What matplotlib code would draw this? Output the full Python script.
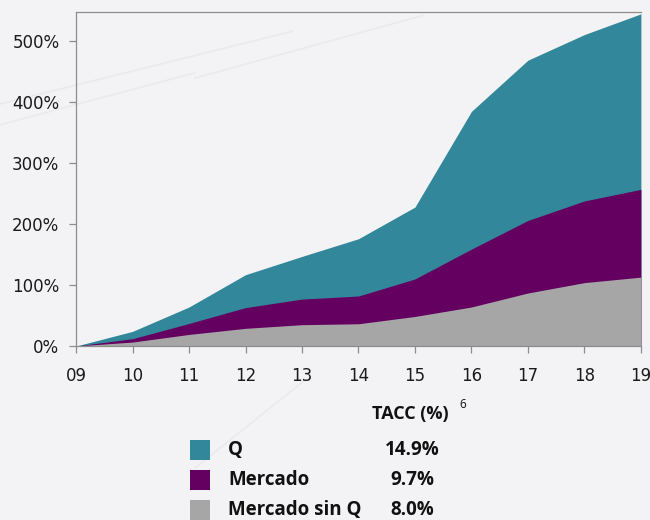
import matplotlib.pyplot as plt
from matplotlib.lines import Line2D
from matplotlib.patches import Rectangle
from matplotlib.ticker import FuncFormatter

years = ["09", "10", "11", "12", "13", "14", "15", "16", "17", "18", "19"]
q = [0, 24, 64, 117, 147, 176, 228, 385, 469, 511, 545]
mercado = [0, 12, 37, 63, 77, 82, 110, 159, 206, 238, 257]
mercado_sin_q = [0, 6.5, 19, 29, 35, 36.5, 48.5, 64, 87, 104, 113]

series_names = ["Q", "Mercado", "Mercado sin Q"]
tacc = ["14.9%", "9.7%", "8.0%"]
colors = ["#32879b", "#640060", "#a6a6a6"]

BG = "#f3f3f5"

fig = plt.figure(figsize=(6.5, 5.2), dpi=100, facecolor=BG)

# faint decorative diagonals in the background
for (x0, y0, x1, y1) in [(0.0, 0.76, 0.30, 0.86), (0.0, 0.80, 0.45, 0.94),
                         (0.30, 0.85, 0.65, 0.97), (0.30, 0.10, 0.47, 0.27)]:
    fig.add_artist(Line2D([x0, x1], [y0, y1], transform=fig.transFigure,
                          color="#eaeaee", lw=1.2, zorder=0))

ax = fig.add_axes([0.117, 0.3346, 0.869, 0.6423])
ax.set_facecolor("none")

x = list(range(len(years)))
for vals, c in zip([q, mercado, mercado_sin_q], colors):
    ax.fill_between(x, 0, vals, color=c, lw=0)

ax.set_xlim(0, len(years) - 1)
ax.set_ylim(0, 548)
ax.set_xticks(x)
ax.set_xticklabels(years)
ax.set_yticks([0, 100, 200, 300, 400, 500])
ax.yaxis.set_major_formatter(FuncFormatter(lambda v, p: f"{v:.0f}%"))

for s in ["left", "bottom", "top"]:
    ax.spines[s].set_color("#8c8c8c")
    ax.spines[s].set_linewidth(0.9)
ax.spines["right"].set_visible(False)
ax.tick_params(axis="both", colors="#8c8c8c", labelcolor="#1a1a1a",
               labelsize=12, length=5, width=0.9, direction="out")
ax.tick_params(axis="y", pad=7)
ax.tick_params(axis="x", pad=10)

# legend with growth rates
fig.text(410 / 650, 1 - 414 / 520, "TACC (%)", fontsize=13, fontweight="bold",
         family="Open Sans", ha="center", va="center", color="#111111")
fig.text(463 / 650, 1 - 405 / 520, "6", fontsize=8.5, family="Open Sans",
         ha="center", va="center", color="#111111")

row_y = [450, 480, 510]
for name, val, c, yy in zip(series_names, tacc, colors, row_y):
    fy = 1 - yy / 520
    fig.add_artist(Rectangle((190 / 650, fy - 10 / 520), 20 / 650, 20 / 520,
                             transform=fig.transFigure, color=c, lw=0))
    fig.text(228 / 650, fy, name, fontsize=13.5, fontweight="bold",
             family="Open Sans", ha="left", va="center", color="#111111")
    fig.text(412 / 650, fy, val, fontsize=13.5, fontweight="bold",
             family="Open Sans", ha="center", va="center", color="#111111")

fig.savefig("out.png", dpi=100, facecolor=BG)
